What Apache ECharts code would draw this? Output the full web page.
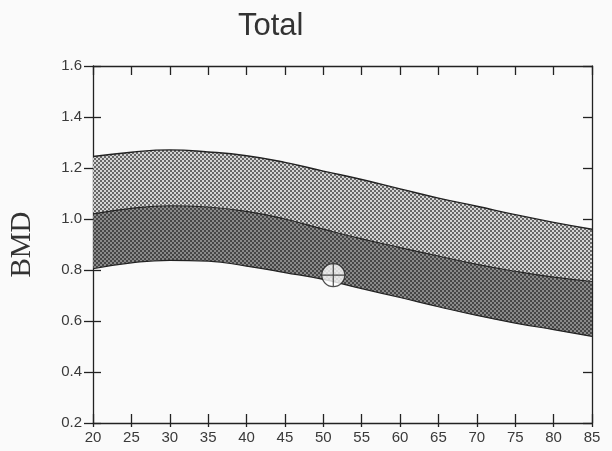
<!DOCTYPE html>
<html>
<head>
<meta charset="utf-8">
<script src="https://cdn.jsdelivr.net/npm/echarts@6/dist/echarts.min.js"></script>
<style>html,body{margin:0;padding:0;background:#fafafa;}#c{width:612px;height:451px;}</style>
</head>
<body>
<div id="c"></div>
<script>
// ---- data ----
const ages   = ['20', '25', '30', '35', '40', '45', '50', '55', '60', '65', '70', '75', '80', '85'];
const upper  = [1.245, 1.262, 1.271, 1.263, 1.248, 1.222, 1.188, 1.155, 1.118, 1.082, 1.050, 1.017, 0.987, 0.960];
const middle = [1.020, 1.042, 1.052, 1.047, 1.030, 1.000, 0.960, 0.922, 0.888, 0.855, 0.822, 0.795, 0.772, 0.755];
const lower  = [0.805, 0.828, 0.838, 0.835, 0.815, 0.790, 0.763, 0.727, 0.692, 0.656, 0.622, 0.592, 0.566, 0.540];
const patient = [[51.3, 0.78]];
const yTickLabels = ['0.2','0.4','0.6','0.8','1.0','1.2','1.4','1.6'];

const xMin = +ages[0], xMax = +ages[ages.length - 1];
const yMin = +yTickLabels[0], yMax = +yTickLabels[yTickLabels.length - 1];

function pattern(base, dot) {
  const c = document.createElement('canvas');
  c.width = 4; c.height = 4;
  const g = c.getContext('2d');
  g.fillStyle = base; g.fillRect(0, 0, 4, 4);
  g.fillStyle = dot; g.fillRect(0, 0, 2, 2); g.fillRect(2, 2, 2, 2);
  return { image: c, repeat: 'repeat' };
}
const lightFill = pattern('#d4d4d4', '#666666');
const darkFill  = pattern('#464646', '#8a8a8a');

const midDiff = middle.map((v, i) => v - lower[i]);
const upDiff  = upper.map((v, i) => v - middle[i]);

const axisLine = { lineStyle: { color: '#222', width: 1.3 } };
const axisTickStyle = { lineStyle: { color: '#222', width: 1.3 } };
const lbl = { color: '#3a3a3a', fontSize: 15, fontFamily: 'Liberation Sans, Arial, sans-serif' };

const chart = echarts.init(document.getElementById('c'));
chart.setOption({
  animation: false,
  title: {
    text: 'Total', left: 233, top: 6,
    textStyle: { fontSize: 31, fontWeight: 'normal', color: '#333', fontFamily: 'Liberation Sans, Arial, sans-serif' }
  },
  grid: { left: 93, right: 20, top: 66, bottom: 28, containLabel: false, outerBoundsMode: 'none' },
  xAxis: [
    { type: 'category', position: 'bottom', data: ages, boundaryGap: false,
      axisLine, splitLine: { show: false },
      axisTick: { inside: true, length: 9, ...axisTickStyle },
      axisLabel: { ...lbl, margin: 7, interval: 0 } },
    { type: 'category', position: 'bottom', data: ages, boundaryGap: false,
      axisLine: { show: false }, splitLine: { show: false },
      axisTick: { inside: false, length: 4, ...axisTickStyle }, axisLabel: { show: false } },
    { type: 'category', position: 'top', data: ages, boundaryGap: false,
      axisLine, splitLine: { show: false },
      axisTick: { inside: true, length: 9, ...axisTickStyle }, axisLabel: { show: false } },
    { type: 'value', position: 'bottom', min: xMin, max: xMax, show: false }
  ],
  yAxis: [
    { type: 'value', position: 'left', min: yMin, max: yMax, interval: 0.2,
      axisLine, splitLine: { show: false },
      axisTick: { inside: false, length: 9, ...axisTickStyle },
      axisLabel: { ...lbl, margin: 11, formatter: v => v.toFixed(1) },
      name: 'BMD', nameLocation: 'middle', nameGap: 56,
      nameTextStyle: { fontSize: 29, color: '#333', fontFamily: 'Liberation Serif, Times New Roman, serif' } },
    { type: 'value', position: 'left', min: yMin, max: yMax, interval: 0.2,
      axisLine: { show: false }, splitLine: { show: false },
      axisTick: { inside: true, length: 8, ...axisTickStyle }, axisLabel: { show: false } },
    { type: 'value', position: 'right', min: yMin, max: yMax, interval: 0.2,
      axisLine, splitLine: { show: false },
      axisTick: { inside: true, length: 9, ...axisTickStyle }, axisLabel: { show: false } }
  ],
  series: [
    { type: 'line', name: 'lower', stack: 'band', smooth: true, symbol: 'none', data: lower,
      lineStyle: { color: '#222', width: 1.2 } },
    { type: 'line', name: 'middle', stack: 'band', smooth: true, symbol: 'none', data: midDiff,
      lineStyle: { color: '#222', width: 1.2 }, areaStyle: { color: darkFill, opacity: 1 } },
    { type: 'line', name: 'upper', stack: 'band', smooth: true, symbol: 'none', data: upDiff,
      lineStyle: { color: '#222', width: 1.4 }, areaStyle: { color: lightFill, opacity: 1 } },
    { type: 'scatter', name: 'patient', data: patient, z: 5, xAxisIndex: 3,
      symbol: 'path://M12,1A11,11 0 1 1 11.99,1Z M12,1L12,23 M1,12L23,12', symbolSize: 23,
      itemStyle: { color: '#ffffff', borderColor: '#222', borderWidth: 1.2 } }
  ]
});
</script>
</body>
</html>
